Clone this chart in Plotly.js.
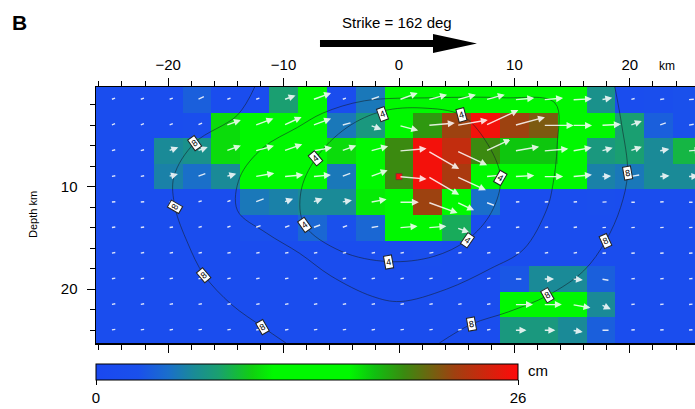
<!DOCTYPE html>
<html><head><meta charset="utf-8">
<script src="https://cdn.plot.ly/plotly-3.0.1.min.js"></script>
<style>html,body{margin:0;padding:0;overflow:hidden;background:#fff}#plot{width:702px;height:409px}</style>
</head><body><div id="plot"></div>
<script>
// ---- data ----
const alongStrikeKm = [-25,-22.5,-20,-17.5,-15,-12.5,-10,-7.5,-5,-2.5,0,2.5,5,7.5,10,12.5,15,17.5,20,22.5,25];
const depthKm = [1.5,4,6.5,9,11.5,14,16.5,19,21.5,24];
const slipRow0 = [1.5,1.5,1.5,3.5,1.5,1.5,7.5,13,1.5,5,13,13,13,13,13,13,13,6.5,1.5,2,2.5];
const slipRow1 = [1.5,1.5,1.5,2,10,13,13,13,5,7,13,18.5,22,25.5,22,21,13,13,7.5,3.5,2.5];
const slipRow2 = [1.5,1.5,6,6.5,10,13,13,13,10,12,19,25.5,23.5,19,17,17,13,7,7.5,6,8.5];
const slipRow3 = [1.5,1.5,5.5,4.5,6,13,13,12,5,12,19,25.5,22.5,14,13,13,13,5.5,5,6,6];
const slipRow4 = [1.5,1.5,1.5,1.5,1.5,5,5.5,6,6,10.5,13,22,12.5,4.5,1.5,1.5,1.5,2,1.5,1.5,1.5];
const slipRow5 = [1.5,1.5,1.5,1.5,1.5,2.5,2.5,4,2.5,4,12,12,8,1.5,1.5,1.5,1.5,1.5,1.5,1.5,1.5];
const slipRow6 = [1.5,1.5,1.5,1.5,1.5,1.5,1.5,1.5,1.5,1.5,1.5,2,1.5,1.5,1.5,1.5,1.5,1.5,1.5,1.5,1.5];
const slipRow7 = [1.5,1.5,1.5,1.5,1.5,1.5,1.5,1.5,1.5,1.5,1.5,1.5,1.5,1.5,3,6,6,3.5,1.5,1.5,1.5];
const slipRow8 = [1.5,1.5,1.5,1.5,1.5,1.5,1.5,1.5,1.5,1.5,1.5,1.5,1.5,1.5,12,12,12,6,1.5,1.5,1.5];
const slipRow9 = [1.5,1.5,1.5,1.5,1.5,1.5,1.5,1.5,1.5,1.5,1.5,1.5,1.5,1.5,7,7,6,3.5,1.5,1.5,1.5];
// rake direction of each slip vector, degrees (0 = along strike, positive = up-dip)
const rakeRow0 = [20,20,20,25,20,20,20,20,20,20,20,15,15,15,5,5,3,10,15,10,5];
const rakeRow1 = [20,20,20,25,20,20,25,20,15,-20,-15,5,10,25,15,0,0,3,20,20,10];
const rakeRow2 = [15,15,20,20,20,15,20,10,20,15,5,-30,-25,25,10,5,10,15,20,10,5];
const rakeRow3 = [10,10,15,20,15,10,5,5,20,20,-5,-30,-25,5,3,0,5,3,10,5,3];
const rakeRow4 = [5,5,10,15,20,20,20,20,10,10,0,-20,-25,-20,5,5,5,3,0,5,0];
const rakeRow5 = [10,10,10,15,20,20,20,20,20,10,5,5,-20,10,10,10,10,5,5,5,5];
const rakeRow6 = [10,10,10,10,10,10,10,10,10,10,10,10,10,10,10,10,10,5,5,5,5];
const rakeRow7 = [10,10,10,10,10,10,10,10,10,10,10,10,10,10,0,0,-5,-10,5,5,5];
const rakeRow8 = [10,10,10,10,10,10,10,10,10,10,10,10,10,10,0,0,-10,-25,5,5,5];
const rakeRow9 = [10,10,10,10,10,10,10,10,10,10,10,10,10,10,0,0,-10,0,5,5,5];
const cbTicks = [0,26];
const hypocenter = {x:[0], depth:[9]};
// rupture-time contours
const c8LeftX = [-12.5,-14,-17.7,-19.5,-19.4,-18.3,-16.9,-14.5,-11.8,-9.8];
const c8LeftD = [0.25,3,5.7,9,12,15.5,18.6,21.5,23.7,25.25];
const c8RightX = [18.7,19.3,19.8,19.2,17.9,16,12.9,9.5,6.3,3.5];
const c8RightD = [0.25,4,8.6,12,15.3,18.2,20.6,22.2,23.4,25.25];
const c6X = [-14,-13.8,-11.8,-8.8,-6.6,-3,3,9,13.5,13.7,13.3,12.8,10.8,7.9,4.1,0.1,-2.3,-5.9,-8.6,-11.5,-14];
const c6D = [12.3,9.1,6.2,4.2,2.8,1.6,1.3,1.3,1.8,6,10,12.2,16.1,18,20,21.2,20.7,18.7,16.5,14.5,12.3];
const c4X = [-1.4,-4.5,-7.2,-8.5,-8.2,-5,-0.9,3,5.9,8,8.8,7.5,5.4,2,-1.4];
const c4D = [2.6,4.2,7.2,10.5,13.7,16.3,17.3,16.8,15.2,12.5,9.1,5.5,3.0,2.3,2.6];
const contourLabelText = ['8','4','4','4','4','8','8','4','4','4','8','8','8','8','8'];
const contourLabelX = [-17.7,-1.4,5.4,-7.2,8.8,19.8,-19.4,-8.2,5.9,-0.9,17.9,-16.9,12.9,-11.8,6.3];
const contourLabelD = [5.7,2.9,3.0,7.2,9.1,8.6,12.0,13.7,15.2,17.3,15.3,18.6,20.6,23.7,23.4];
const contourLabelAngle = [-35,-20,-15,-40,30,-10,-60,-35,35,-10,-25,-40,-30,-30,-10];

// ---- build ----
const slip = [slipRow0,slipRow1,slipRow2,slipRow3,slipRow4,slipRow5,slipRow6,slipRow7,slipRow8,slipRow9];
const rake = [rakeRow0,rakeRow1,rakeRow2,rakeRow3,rakeRow4,rakeRow5,rakeRow6,rakeRow7,rakeRow8,rakeRow9];

const colorscale = [
  [0,'#1a48f0'],[0.1,'#1a50ec'],[0.17,'#1a6ecc'],[0.23,'#1a8a98'],[0.29,'#1aa070'],
  [0.37,'#10d010'],[0.42,'#00f800'],[0.6,'#00f800'],[0.66,'#10c010'],[0.73,'#3a8a10'],
  [0.85,'#a04010'],[1,'#ff0a0a']
];

const W = 702, H = 409, ML = 96, MR = 0, MT = 87, MB = 66;
const xr = [-26.25, 26.25], yr = [25.25, 0.25];
const pxPerKmX = (W-ML-MR)/(xr[1]-xr[0]);
const pxPerKmY = (H-MT-MB)/(yr[0]-yr[1]);
const F = 'Liberation Sans, Arial, sans-serif';

const traces = [{
  type:'heatmap', x:alongStrikeKm, y:depthKm, z:slip, zmin:0, zmax:26,
  colorscale:colorscale, zsmooth:false, hoverinfo:'skip',
  colorbar:{orientation:'h', x:0, xanchor:'left', xref:'paper', xpad:0, ypad:0,
    y:-0.082, yanchor:'top', len:422, lenmode:'pixels', thickness:16,
    outlinewidth:1, outlinecolor:'#000', tickvals:cbTicks, ticktext:cbTicks.map(String),
    ticks:'outside', ticklen:5, tickcolor:'#000',
    tickfont:{family:F, size:15, color:'#000'}}
}];
const lineStyle = {color:'rgba(20,30,40,0.55)', width:1, shape:'spline'};
[[c8LeftX,c8LeftD],[c8RightX,c8RightD],[c6X,c6D],[c4X,c4D]].forEach(([cx,cd])=>{
  traces.push({type:'scatter', mode:'lines', x:cx, y:cd, line:lineStyle, hoverinfo:'skip', showlegend:false});
});
traces.push({type:'scatter', mode:'markers', x:hypocenter.x, y:hypocenter.depth,
  marker:{symbol:'square', size:6, color:'#ff1010', line:{color:'#803030', width:0.8}}, showlegend:false, hoverinfo:'skip'});

const annotations = [];
for (let r=0;r<depthKm.length;r++){
  for (let c=0;c<alongStrikeKm.length;c++){
    const s = slip[r][c];
    const lenPx = 3 + s*1.3;
    const a = rake[r][c]*Math.PI/180;
    const x0 = alongStrikeKm[c], y0 = depthKm[r];
    const x1 = x0 + lenPx*Math.cos(a)/pxPerKmX;
    const y1 = y0 - lenPx*Math.sin(a)/pxPerKmY;
    annotations.push({x:x1, y:y1, ax:x0, ay:y0, xref:'x', yref:'y', axref:'x', ayref:'y',
      text:'', showarrow:true, arrowhead: lenPx>10?2:0, arrowsize:1, arrowwidth:1.4,
      arrowcolor:'rgba(255,255,255,0.85)', standoff:0, startstandoff:0});
  }
}
for (let i=0;i<contourLabelText.length;i++){
  annotations.push({x:contourLabelX[i], y:contourLabelD[i], xref:'x', yref:'y', text:contourLabelText[i],
    xanchor:'center', yanchor:'middle',
    showarrow:false, textangle:contourLabelAngle[i], bgcolor:'#ffffff', bordercolor:'#222', borderwidth:1, borderpad:1,
    font:{family:F, size:9, color:'#000'}});
}
function pp(px,py){return {x:(px-ML)/(W-ML-MR), y:(H-MB-py)/(H-MT-MB)};}
function txt(px,py,text,size,xa){const q=pp(px,py);return {xref:'paper',yref:'paper',x:q.x,y:q.y,text:text,
  showarrow:false,xanchor:xa||'center',yanchor:'middle',font:{family:F,size:size,color:'#000'}};}
const dk = txt(33,215,'Depth km',11); dk.textangle=-90; annotations.push(dk);
annotations.push(txt(657,66,'km',12,'left'));
annotations.push(txt(397,22,'Strike = 162 deg',15));
annotations.push(txt(10,22,'<b>B</b>',21,'left'));
annotations.push(txt(526,370,'cm',15,'left'));

const p = [[320,40],[433,40],[433,34],[477,43.5],[433,53],[433,47],[320,47]].map(q=>{const r=pp(q[0],q[1]);return r.x.toFixed(4)+','+r.y.toFixed(4);});
const arrowPath = 'M'+p.join(' L')+' Z';

const axisCommon = {showline:true, linecolor:'#000', linewidth:1.5, mirror:'ticks', ticks:'outside',
  ticklen:8, tickwidth:1, tickcolor:'#000', showgrid:false, zeroline:false,
  tickfont:{family:F, size:15, color:'#000'},
  minor:{dtick:2, tick0:0, ticks:'outside', ticklen:5, tickwidth:1, tickcolor:'#000', showgrid:false}};

const layout = {
  width:W, height:H, margin:{l:ML, r:MR, t:MT, b:MB, pad:0},
  paper_bgcolor:'#fff', plot_bgcolor:'#fff', showlegend:false,
  xaxis:Object.assign({}, axisCommon, {range:xr, side:'top', tick0:0, dtick:10, ticklabelstandoff:2}),
  yaxis:Object.assign({}, axisCommon, {range:yr, tick0:0, dtick:10, ticklabelstandoff:6}),
  annotations:annotations,
  shapes:[{type:'path', xref:'paper', yref:'paper', path:arrowPath, fillcolor:'#000', line:{width:0}}]
};
Plotly.newPlot('plot', traces, layout, {staticPlot:true, displayModeBar:false});
</script></body></html>
